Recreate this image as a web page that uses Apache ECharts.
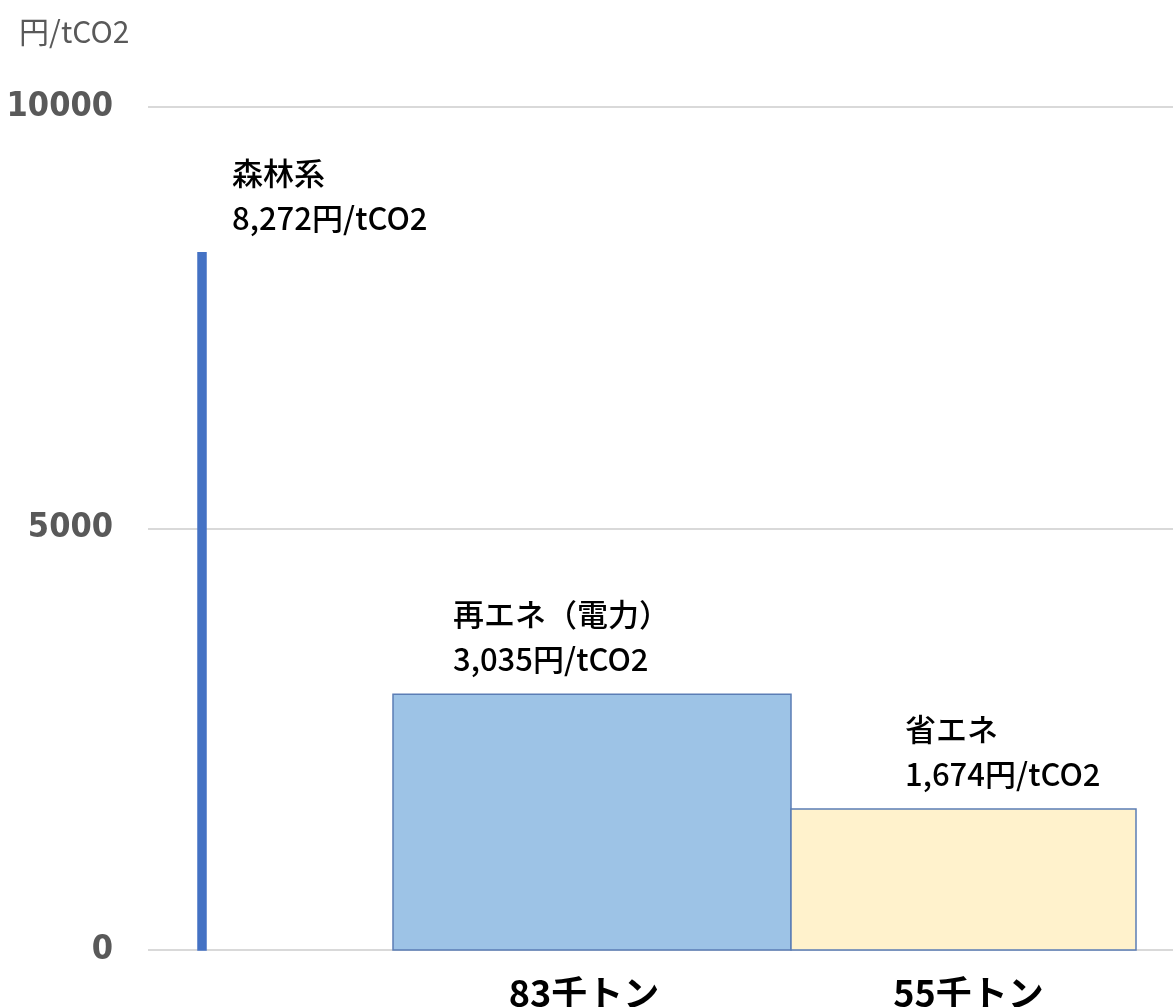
<!DOCTYPE html>
<html>
<head>
<meta charset="utf-8">
<script src="https://cdn.jsdelivr.net/npm/echarts@6/dist/echarts.min.js"></script>
<style>
html,body{margin:0;padding:0;background:#fff;}
#chart{width:1173px;height:1007px;}
</style>
</head>
<body>
<div id="chart"></div>
<script>
// ---- data ----
const categories = ['森林系', '再エネ（電力）', '省エネ'];
const costs = [8272, 3035, 1674];          // 円/tCO2
const xStart = [10.0, 49.0, 128.6];        // horizontal extent (axis units)
const xEnd = [11.6, 128.6, 197.6];
const volumeLabels = ['', '83千トン', '55千トン'];
const yTicks = [0, 5000, 10000];

// ---- styles ----
const fills = ['#4472C4', '#9DC3E6', '#FFF2CC'];
const strokes = ['#4472C4', '#5B7DB5', '#5B7DB5'];
const labelDx = [34, 60, 114];
const volumeDx = [0, -8, 5];

const data = categories.map((c, i) => [xStart[i], xEnd[i], costs[i], i]);

const chart = echarts.init(document.getElementById('chart'));
chart.setOption({
  animation: false,
  title: {
    text: '円/tCO2', left: 14, top: 12,
    textStyle: { fontFamily: 'Noto Sans CJK JP', fontSize: 30, fontWeight: 'normal', color: '#595959' }
  },
  grid: { left: 148, right: 0, top: 107, bottom: 57 },
  xAxis: {
    type: 'value', min: 0, max: 205,
    show: false
  },
  yAxis: {
    type: 'value', min: yTicks[0], max: yTicks[yTicks.length - 1], interval: yTicks[1] - yTicks[0],
    axisLine: { show: false }, axisTick: { show: false },
    axisLabel: {
      margin: 35, fontFamily: "'DejaVu Sans Condensed', Roboto", fontSize: 34, fontWeight: 'bold', color: '#595959',
      formatter: function (v) { return String(v); }
    },
    splitLine: { lineStyle: { color: '#d9d9d9', width: 2 } }
  },
  series: [{
    type: 'custom',
    clip: false,
    data: data,
    encode: { x: [0, 1], y: 2 },
    renderItem: function (params, api) {
      const i = api.value(3);
      const x0 = api.value(0), x1 = api.value(1), v = api.value(2);
      const pTop = api.coord([x0, v]);
      const pBot = api.coord([x1, 0]);
      const children = [{
        type: 'rect',
        shape: { x: pTop[0], y: pTop[1], width: pBot[0] - pTop[0], height: pBot[1] - pTop[1] },
        style: { fill: fills[i], stroke: strokes[i], lineWidth: 1.5 }
      }, {
        type: 'text',
        x: pTop[0] + labelDx[i], y: pTop[1] - 12,
        style: {
          text: categories[i] + '\n' + costs[i].toLocaleString('en-US') + '円/tCO2',
          fontFamily: 'Noto Sans CJK JP', fontSize: 31, fontWeight: 500,
          lineHeight: 45, fill: '#000', align: 'left', verticalAlign: 'bottom'
        }
      }];
      if (volumeLabels[i]) {
        children.push({
          type: 'text',
          x: (pTop[0] + pBot[0]) / 2 + volumeDx[i], y: pBot[1] + 43,
          style: {
            text: volumeLabels[i], fontFamily: 'Noto Sans CJK JP', fontSize: 36, fontWeight: 'bold',
            fill: '#000', align: 'center', verticalAlign: 'middle'
          }
        });
      }
      return { type: 'group', children: children };
    }
  }]
});
</script>
</body>
</html>
